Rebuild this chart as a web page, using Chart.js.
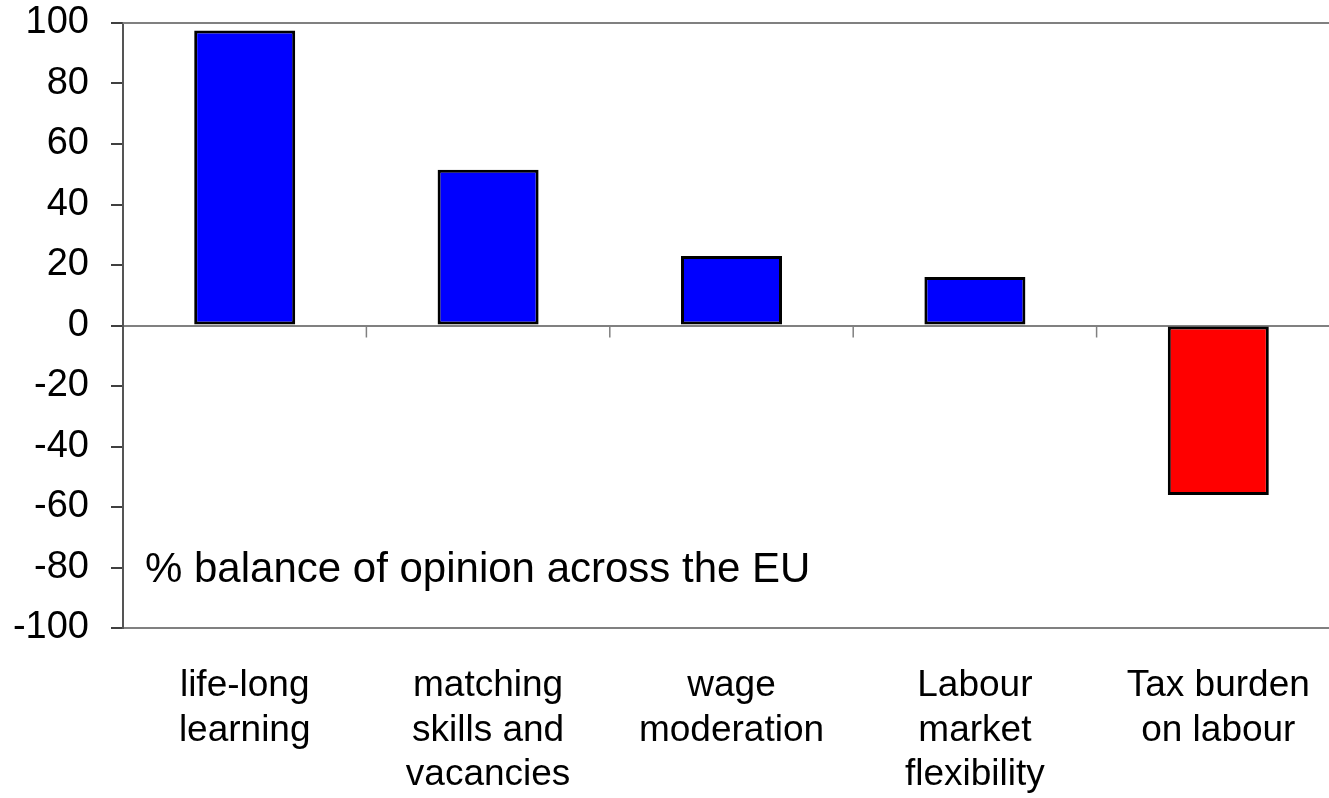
<!DOCTYPE html>
<html>
<head>
<meta charset="utf-8">
<script src="https://cdn.jsdelivr.net/npm/chart.js@4/dist/chart.umd.min.js"></script>
<style>
    html, body { margin: 0; padding: 0; background: #fff; overflow: hidden; }
    #wrap { width: 1360px; height: 798px; }
</style>
</head>
<body>
<div id="wrap"><canvas id="grafico"></canvas></div>
<script>
// dados do gráfico
const categorias = [
    ['life-long', 'learning'],
    ['matching', 'skills and', 'vacancies'],
    ['wage', 'moderation'],
    ['Labour', 'market', 'flexibility'],
    ['Tax burden', 'on labour']
];
const saldos = [97.5, 51.5, 23, 16, -56];
const ticksY = [-100, -80, -60, -40, -20, 0, 20, 40, 60, 80, 100];
const nota = '% balance of opinion across the EU';

const fonte = '"Liberation Sans", Arial, sans-serif';

// moldura, marcas do eixo no zero e texto da nota
const extras = {
    id: 'extras',
    afterDraw(chart) {
        const { ctx, chartArea, scales } = chart;
        const x = scales.x, y = scales.y;
        const y0 = y.getPixelForValue(0);
        ctx.save();
        ctx.strokeStyle = '#808080';
        ctx.lineWidth = 2;
        ctx.beginPath();
        ctx.moveTo(chartArea.left, chartArea.top);
        ctx.lineTo(chartArea.right, chartArea.top);
        ctx.stroke();
        // marcas entre categorias, abaixo da linha do zero
        ctx.lineWidth = 1.5;
        for (let i = 1; i < categorias.length; i++) {
            const xb = (x.getPixelForValue(i - 1) + x.getPixelForValue(i)) / 2;
            ctx.beginPath();
            ctx.moveTo(xb, y0);
            ctx.lineTo(xb, y0 + 12);
            ctx.stroke();
        }
        ctx.fillStyle = '#000';
        ctx.font = '42px ' + fonte;
        ctx.textBaseline = 'middle';
        ctx.fillText(nota, chartArea.left + 22, y.getPixelForValue(-81));
        ctx.restore();
    }
};

const ctx = document.getElementById('grafico').getContext('2d');
new Chart(ctx, {
    type: 'bar',
    data: {
        labels: categorias,
        datasets: [{
            data: saldos,
            backgroundColor: saldos.map(v => v < 0 ? '#ff0000' : '#0000ff'),
            borderColor: '#000',
            borderWidth: 3,
            borderSkipped: false,
            categoryPercentage: 1,
            barPercentage: 0.415
        }]
    },
    options: {
        responsive: true,
        maintainAspectRatio: false,
        animation: false,
        layout: { padding: { top: 23, right: 20, left: 0, bottom: 0 } },
        plugins: {
            legend: { display: false },
            tooltip: { enabled: false }
        },
        scales: {
            x: {
                afterFit(scale) { scale.height = 170; },
                grid: { display: false },
                border: { display: true, color: '#808080', width: 2 },
                ticks: {
                    color: '#000',
                    padding: 28,
                    maxRotation: 0,
                    autoSkip: false,
                    font: { family: fonte, size: 37, lineHeight: 1.2 }
                }
            },
            y: {
                min: -100,
                max: 100,
                afterBuildTicks(scale) {
                    scale.ticks = ticksY.map(v => ({ value: v }));
                },
                afterFit(scale) {
                    scale.width = 123;
                    scale.paddingTop = 0;
                    scale.paddingBottom = 0;
                },
                grid: {
                    drawOnChartArea: true,
                    color: c => c.tick && c.tick.value === 0 ? '#808080' : 'rgba(0,0,0,0)',
                    lineWidth: 2,
                    tickLength: 12,
                    tickColor: '#000',
                    tickWidth: 1.5
                },
                border: { display: true, color: '#555', width: 2 },
                ticks: {
                    color: '#000',
                    padding: 22,
                    font: { family: fonte, size: 38 }
                }
            }
        }
    },
    plugins: [extras]
});
</script>
</body>
</html>
